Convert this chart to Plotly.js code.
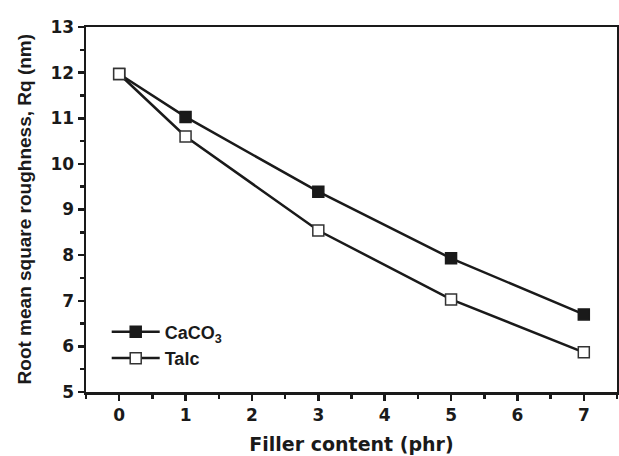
<!DOCTYPE html>
<html>
<head>
<meta charset="utf-8">
<script src="https://cdn.plot.ly/plotly-3.0.1.min.js"></script>
<style>html,body{margin:0;padding:0;background:#fff;}#chart{width:619px;height:456px;}</style>
</head>
<body>
<div id="chart"></div>
<script>
var fillerContent = [0, 1, 3, 5, 7];
var caco3 = [11.97, 11.03, 9.39, 7.93, 6.70];
var talc = [11.97, 10.60, 8.54, 7.03, 5.87];
var seriesNames = ['CaCO<sub>3</sub>', 'Talc'];
var xTicks = [0, 1, 2, 3, 4, 5, 6, 7];
var yTicks = [5, 6, 7, 8, 9, 10, 11, 12, 13];
var yTitle = 'Root mean square roughness, Rq (nm)';
var xTitle = 'Filler content (phr)';

var FONT = 'Liberation Sans, Arial, sans-serif';
var WIDE = 'DejaVu Sans, Liberation Sans, sans-serif';
var ink = '#1a1a1a';

var traces = [
  {x: fillerContent, y: caco3, name: seriesNames[0], mode: 'lines+markers',
   line: {color: ink, width: 2.5},
   marker: {symbol: 'square', size: 11, color: ink, line: {color: ink, width: 1.5}}},
  {x: fillerContent, y: talc, name: seriesNames[1], mode: 'lines+markers',
   line: {color: ink, width: 2.5},
   marker: {symbol: 'square', size: 11, color: '#ffffff', line: {color: '#333', width: 1.5}}}
];

var layout = {
  width: 619, height: 456,
  margin: {l: 86, r: 2, t: 27, b: 64},
  paper_bgcolor: '#fff', plot_bgcolor: '#fff',
  font: {family: FONT, color: ink},
  showlegend: true,
  legend: {x: 0.039, y: 0.215, xanchor: 'left', yanchor: 'top', bgcolor: 'rgba(0,0,0,0)',
           itemwidth: 48,
           font: {family: FONT, size: 18, color: ink, weight: 'bold'}, tracegroupgap: 0},
  xaxis: {
    range: [-0.5, 7.5], tickvals: xTicks, ticktext: xTicks.map(String),
    ticks: 'outside', ticklen: 6, tickwidth: 2.5, tickcolor: ink,
    minor: {dtick: 0.5, tick0: 0.5, ticks: 'outside', ticklen: 4, tickwidth: 2.5, tickcolor: ink},
    showline: true, linewidth: 2.5, linecolor: ink, mirror: true,
    showgrid: false, zeroline: false,
    tickfont: {family: WIDE, size: 17, color: ink, weight: 'bold'},
    title: {text: xTitle, font: {family: WIDE, size: 19, color: ink, weight: 'bold'}, standoff: 14}
  },
  yaxis: {
    range: [5, 13], tickvals: yTicks, ticktext: yTicks.map(String),
    ticks: 'outside', ticklen: 6, tickwidth: 2.5, tickcolor: ink,
    minor: {dtick: 0.5, tick0: 5.5, ticks: 'outside', ticklen: 4, tickwidth: 2.5, tickcolor: ink},
    showline: true, linewidth: 2.5, linecolor: ink, mirror: true,
    showgrid: false, zeroline: false,
    tickfont: {family: WIDE, size: 17, color: ink, weight: 'bold'}
  },
  annotations: [{
    text: yTitle, xref: 'paper', yref: 'paper', x: -0.115, y: 0.5,
    xanchor: 'center', yanchor: 'middle', textangle: -90, showarrow: false,
    font: {family: FONT, size: 19, color: ink, weight: 'bold'}
  }]
};

Plotly.newPlot('chart', traces, layout, {displayModeBar: false, staticPlot: true});
</script>
</body>
</html>
